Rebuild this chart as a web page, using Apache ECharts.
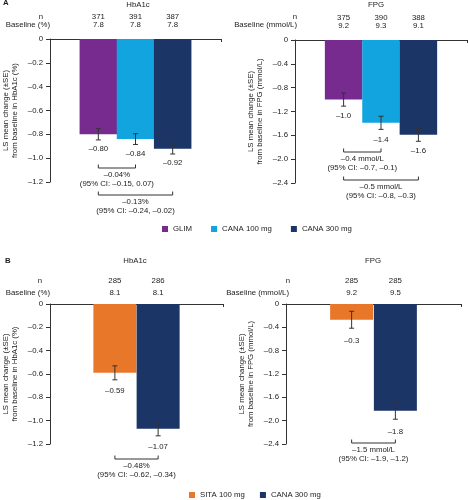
<!DOCTYPE html>
<html><head><meta charset="utf-8">
<script src="https://cdn.jsdelivr.net/npm/echarts@6/dist/echarts.min.js"></script>
<style>html,body{margin:0;padding:0;background:#fff}#c{width:468px;height:500px}</style>
</head><body><div id="c"></div>
<script>
// ================= DATA =================
// Panel A — groups
const aGroups = ['GLIM', 'CANA 100 mg', 'CANA 300 mg'];
// Panel A — HbA1c
const aHbN = [371, 391, 387];
const aHbBase = ['7.8', '7.8', '7.8'];
const aHbMean = [-0.80, -0.84, -0.92];
const aHbSE = [0.047, 0.045, 0.045];
const aHbCmpFrom = [0, 0];
const aHbCmpTo = [1, 2];
const aHbCmpDiff = ['–0.04%', '–0.13%'];
const aHbCmpCI = ['(95% CI: –0.15, 0.07)', '(95% CI: –0.24, –0.02)'];
// Panel A — FPG
const aFpN = [375, 390, 388];
const aFpBase = ['9.2', '9.3', '9.1'];
const aFpMean = [-1.0, -1.39, -1.59];
const aFpSE = [0.11, 0.11, 0.11];
const aFpCmpFrom = [0, 0];
const aFpCmpTo = [1, 2];
const aFpCmpDiff = ['–0.4 mmol/L', '–0.5 mmol/L'];
const aFpCmpCI = ['(95% CI: –0.7, –0.1)', '(95% CI: –0.8, –0.3)'];
// Panel B — groups
const bGroups = ['SITA 100 mg', 'CANA 300 mg'];
// Panel B — HbA1c
const bHbN = [285, 286];
const bHbBase = ['8.1', '8.1'];
const bHbMean = [-0.59, -1.07];
const bHbSE = [0.06, 0.06];
const bHbCmpFrom = [0];
const bHbCmpTo = [1];
const bHbCmpDiff = ['–0.48%'];
const bHbCmpCI = ['(95% CI: –0.62, –0.34)'];
// Panel B — FPG
const bFpN = [285, 285];
const bFpBase = ['9.2', '9.5'];
const bFpMean = [-0.27, -1.83];
const bFpSE = [0.145, 0.145];
const bFpCmpFrom = [0];
const bFpCmpTo = [1];
const bFpCmpDiff = ['–1.5 mmol/L'];
const bFpCmpCI = ['(95% CI: –1.9, –1.2)'];
// Axis ticks
const hbAxis = { min: -1.2, max: 0, interval: 0.2 };
const fpAxis = { min: -2.4, max: 0, interval: 0.4 };
const hbYName = 'LS mean change (±SE)\nfrom baseline in HbA1c (%)';
const fpYName = 'LS mean change (±SE)\nfrom baseline in FPG (mmol/L)';

// ================= STYLE / LAYOUT =================
const FONT_FAMILY = '"Liberation Sans", Arial, sans-serif';
const FS = 7.8;
const FONT = FS + 'px ' + FONT_FAMILY;
const TXT = '#222';
const AX = '#333';
const colors = {
  'GLIM': '#782B8F',
  'CANA 100 mg': '#12A4DF',
  'CANA 300 mg': '#1C3567',
  'SITA 100 mg': '#E8772A'
};

const panels = [
  { grid: { left: 49, top: 39, width: 172, height: 143 }, groups: aGroups,
    n: aHbN, base: aHbBase, mean: aHbMean, se: aHbSE, cmpFrom: aHbCmpFrom, cmpTo: aHbCmpTo,
    cmpDiff: aHbCmpDiff, cmpCI: aHbCmpCI, axis: hbAxis, yName: hbYName, dec: 2,
    xPos: [1.3, 2.3, 3.3], xMax: 4.6, barW: 37.5, labelGap: 9, cmpLevels: [129, 156],
    nOff: 22, baseOff: 14 },
  { grid: { left: 295, top: 40, width: 172, height: 143 }, groups: aGroups,
    n: aFpN, base: aFpBase, mean: aFpMean, se: aFpSE, cmpFrom: aFpCmpFrom, cmpTo: aFpCmpTo,
    cmpDiff: aFpCmpDiff, cmpCI: aFpCmpCI, axis: fpAxis, yName: fpYName, dec: 1,
    xPos: [1.3, 2.3, 3.3], xMax: 4.6, barW: 37.5, labelGap: 10, cmpLevels: [112, 140],
    nOff: 22, baseOff: 14 },
  { grid: { left: 50, top: 304, width: 173, height: 140 }, groups: bGroups,
    n: bHbN, base: bHbBase, mean: bHbMean, se: bHbSE, cmpFrom: bHbCmpFrom, cmpTo: bHbCmpTo,
    cmpDiff: bHbCmpDiff, cmpCI: bHbCmpCI, axis: hbAxis, yName: hbYName, dec: 2,
    xPos: [1.5, 2.5], xMax: 4, barW: 43, labelGap: 11, cmpLevels: [155],
    nOff: 23, baseOff: 11 },
  { grid: { left: 286, top: 304, width: 175, height: 140 }, groups: bGroups,
    n: bFpN, base: bFpBase, mean: bFpMean, se: bFpSE, cmpFrom: bFpCmpFrom, cmpTo: bFpCmpTo,
    cmpDiff: bFpCmpDiff, cmpCI: bFpCmpCI, axis: fpAxis, yName: fpYName, dec: 1,
    xPos: [1.5, 2.5], xMax: 4, barW: 43, labelGap: 13, cmpLevels: [139],
    nOff: 23, baseOff: 11 }
];

function dash(v, dec) {
  if (Math.abs(v) < 1e-9) return '0';
  const s = Math.abs(v).toFixed(dec);
  return (v < 0 ? '–' : '') + s;
}
function txt(x, y, text, align, extra) {
  return Object.assign({ type: 'text', x: x, y: y,
    style: { text: text, align: align || 'center', verticalAlign: 'middle', font: FONT, fill: TXT } }, extra || {});
}
function ln(x1, y1, x2, y2) {
  return { type: 'line', shape: { x1: x1, y1: y1, x2: x2, y2: y2 }, style: { stroke: AX, lineWidth: 1 } };
}

const grids = [], xAxes = [], yAxes = [], series = [];
panels.forEach(function (p, pi) {
  grids.push(Object.assign({ containLabel: false }, p.grid));
  xAxes.push({ type: 'value', gridIndex: pi, min: 0, max: p.xMax, interval: p.xMax,
    axisLine: { onZero: true, lineStyle: { color: AX, width: 1 } },
    axisTick: { show: true, length: 3, lineStyle: { color: AX } },
    axisLabel: { show: false }, splitLine: { show: false } });
  yAxes.push({ type: 'value', gridIndex: pi, min: p.axis.min, max: p.axis.max, interval: p.axis.interval,
    axisLine: { show: true, lineStyle: { color: AX, width: 1 } },
    axisTick: { show: true, length: 4, lineStyle: { color: AX } },
    axisLabel: { margin: 7, fontSize: FS, color: TXT, fontFamily: FONT_FAMILY,
      formatter: function (v) { return dash(v, 1); } },
    splitLine: { show: false },
    name: p.yName, nameLocation: 'middle', nameGap: 30, nameRotate: 90,
    nameTextStyle: { fontSize: FS, color: TXT, fontFamily: FONT_FAMILY, lineHeight: 9.5, align: 'center' } });
  // bars
  p.groups.forEach(function (g, i) {
    series.push({ type: 'bar', name: g, xAxisIndex: pi, yAxisIndex: pi,
      data: [[p.xPos[i], p.mean[i]]], barWidth: p.barW, barGap: '-100%',
      itemStyle: { color: colors[g] }, silent: true, z: 2 });
  });
  // error bars + value labels
  series.push({ type: 'custom', xAxisIndex: pi, yAxisIndex: pi, z: 5, silent: true,
    data: p.xPos.map(function (x, i) { return [x, p.mean[i]]; }),
    renderItem: function (params, api) {
      const i = params.dataIndex;
      const x = p.xPos[i], m = p.mean[i], s = p.se[i];
      const top = api.coord([x, m + s]), bot = api.coord([x, m - s]);
      const cx = top[0], cw = 2.5;
      return { type: 'group', children: [
        ln(cx, top[1], cx, bot[1]),
        ln(cx - cw, top[1], cx + cw, top[1]),
        ln(cx - cw, bot[1], cx + cw, bot[1]),
        txt(cx, bot[1] + p.labelGap, dash(m, p.dec))
      ] };
    } });
  // header: n and baseline values above each bar
  series.push({ type: 'custom', xAxisIndex: pi, yAxisIndex: pi, z: 5, silent: true,
    data: p.xPos.map(function (x) { return [x, 0]; }),
    renderItem: function (params, api) {
      const i = params.dataIndex;
      const c = api.coord([p.xPos[i], 0]);
      return { type: 'group', children: [
        txt(c[0], c[1] - p.nOff, String(p.n[i])),
        txt(c[0], c[1] - p.baseOff, p.base[i])
      ] };
    } });
  // comparison brackets
  series.push({ type: 'custom', xAxisIndex: pi, yAxisIndex: pi, z: 5, silent: true,
    data: p.cmpFrom.map(function (f) { return [p.xPos[f], 0]; }),
    renderItem: function (params, api) {
      const k = params.dataIndex;
      const a = api.coord([p.xPos[p.cmpFrom[k]], 0]);
      const b = api.coord([p.xPos[p.cmpTo[k]], 0]);
      const y = a[1] + p.cmpLevels[k];
      const mid = (a[0] + b[0]) / 2;
      return { type: 'group', children: [
        ln(a[0], y, b[0], y),
        ln(a[0], y, a[0], y - 3.5),
        ln(b[0], y, b[0], y - 3.5),
        txt(mid, y + 7, p.cmpDiff[k]),
        txt(mid, y + 15.5, p.cmpCI[k])
      ] };
    } });
});

const staticText = [
  txt(3, 3, 'A', 'left', {}), txt(5, 261, 'B', 'left', {}),
  txt(138, 5, 'HbA1c'), txt(376, 5, 'FPG'),
  txt(135, 261, 'HbA1c'), txt(373, 261, 'FPG'),
  txt(43, 17, 'n', 'right'), txt(50, 25, 'Baseline (%)', 'right'),
  txt(297, 17, 'n', 'right'), txt(297, 25, 'Baseline (mmol/L)', 'right'),
  txt(42, 281, 'n', 'right'), txt(50, 293, 'Baseline (%)', 'right'),
  txt(290, 281, 'n', 'right'), txt(289, 293, 'Baseline (mmol/L)', 'right')
];
staticText[0].style.font = 'bold ' + FONT; staticText[1].style.font = 'bold ' + FONT;

const chart = echarts.init(document.getElementById('c'), null, { renderer: 'canvas' });
chart.setOption({
  animation: false,
  backgroundColor: '#fff',
  textStyle: { fontFamily: FONT_FAMILY },
  grid: grids, xAxis: xAxes, yAxis: yAxes, series: series,
  legend: [
    { data: aGroups, left: 162, top: 225, icon: 'rect', itemWidth: 6, itemHeight: 6, itemGap: 19,
      selectedMode: false, padding: 0, textStyle: { fontSize: FS, color: TXT, fontFamily: FONT_FAMILY } },
    { data: bGroups, left: 189, top: 491, icon: 'rect', itemWidth: 6, itemHeight: 6, itemGap: 15,
      selectedMode: false, padding: 0, textStyle: { fontSize: FS, color: TXT, fontFamily: FONT_FAMILY } }
  ],
  graphic: staticText
});
</script></body></html>
